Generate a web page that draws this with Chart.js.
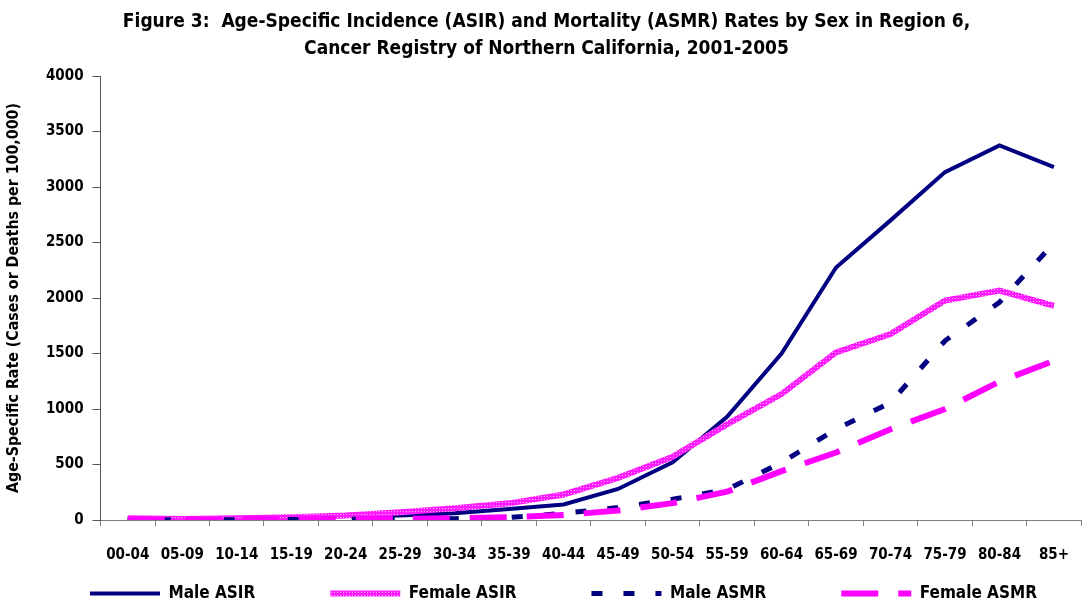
<!DOCTYPE html>
<html>
<head>
<meta charset="utf-8">
<script src="https://cdn.jsdelivr.net/npm/chart.js@4.4.0/dist/chart.umd.min.js"></script>
<style>
  html, body { margin: 0; padding: 0; background: #fff; overflow: hidden; }
  #wrap { position: relative; width: 1089px; height: 603px; }
</style>
</head>
<body>
<div id="wrap"><canvas id="c"></canvas></div>
<script>
const categories = ['00-04','05-09','10-14','15-19','20-24','25-29','30-34','35-39','40-44','45-49','50-54','55-59','60-64','65-69','70-74','75-79','80-84','85+'];
const maleASIR   = [15, 10, 15, 25, 35, 40, 60, 100, 140, 280, 519, 930, 1500, 2275, 2700, 3135, 3375, 3180];
const femaleASIR = [15, 10, 15, 25, 40, 70, 105, 150, 230, 380, 570, 862, 1135, 1510, 1675, 1978, 2068, 1930];
const maleASMR   = [3, 3, 3, 5, 6, 8, 12, 22, 60, 112, 187, 275, 518, 818, 1058, 1615, 1962, 2495];
const femaleASMR = [3, 2, 3, 4, 6, 10, 16, 25, 45, 85, 152, 255, 440, 608, 818, 1000, 1248, 1435];
const titleLines = ['Figure 3:  Age-Specific Incidence (ASIR) and Mortality (ASMR) Rates by Sex in Region 6,', 'Cancer Registry of Northern California, 2001-2005'];
const yAxisTitle = 'Age-Specific Rate (Cases or Deaths per 100,000)';

const NARROW = "'DejaVu Sans Condensed', 'Liberation Sans', Arial, sans-serif";

// dotted-magenta pattern for Female ASIR
const pc = document.createElement('canvas');
pc.width = 3; pc.height = 3;
const pg = pc.getContext('2d');
pg.fillStyle = '#ff1aff'; pg.fillRect(0, 0, 3, 3);
pg.fillStyle = '#ffb3ff'; pg.fillRect(1, 1, 1, 1);
const femalePattern = pg.createPattern(pc, 'repeat');

const LEGEND_GAP = 75;      // horizontal gap between legend entries
const LEGEND_START = 90;    // x of first legend entry
const LEGEND_ROW_Y = 585;   // y of the legend row top

const legendTweak = {
  id: 'legendTweak',
  afterInit(chart) {
    const lg = chart.legend;
    const origFit = lg.fit.bind(lg);
    lg.fit = function () {
      const lo = this.options.labels;
      const p = lo.padding;
      lo.padding = 8;
      origFit();
      lo.padding = p;
      this.height = 19;
    };
  },
  afterLayout(chart) {
    const l = chart.legend;
    if (!l || !l.lineWidths) return;
    const p = LEGEND_GAP;
    const R = 1140;
    l.right = R;
    l.left = 2 * LEGEND_START - p - R + l.lineWidths[0];
    l.top = LEGEND_ROW_Y - p;
    l.bottom = 603;
  }
};

new Chart(document.getElementById('c'), {
  type: 'line',
  data: {
    labels: categories,
    datasets: [
      { label: 'Male ASIR', data: maleASIR, borderColor: '#000080', backgroundColor: '#000080', borderWidth: 4, pointRadius: 0, tension: 0, order: 4 },
      { label: 'Female ASIR', data: femaleASIR, borderColor: femalePattern, backgroundColor: femalePattern, borderWidth: 6, pointRadius: 0, tension: 0, order: 3 },
      { label: 'Male ASMR', data: maleASMR, borderColor: '#000080', backgroundColor: '#000080', borderWidth: 5, borderDash: [11, 21], pointRadius: 0, tension: 0, order: 2 },
      { label: 'Female ASMR', data: femaleASMR, borderColor: '#ff00ff', backgroundColor: '#ff00ff', borderWidth: 6, borderDash: [37, 20], pointRadius: 0, tension: 0, order: 1 }
    ]
  },
  options: {
    responsive: true,
    maintainAspectRatio: false,
    animation: false,
    layout: { padding: { left: 4, right: 0, top: 0, bottom: 0 } },
    plugins: {
      title: {
        display: true,
        text: titleLines,
        color: '#000',
        font: { family: NARROW, size: 19, weight: 'bold', lineHeight: 1.45 },
        padding: { top: 8, bottom: 13 }
      },
      legend: {
        position: 'bottom',
        labels: {
          usePointStyle: true,
          pointStyle: 'line',
          pointStyleWidth: 70,
          boxHeight: 16,
          padding: LEGEND_GAP,
          color: '#000',
          font: { family: NARROW, size: 17, weight: 'bold' },
          sort: (a, b) => a.datasetIndex - b.datasetIndex,
          generateLabels(chart) {
            const items = Chart.defaults.plugins.legend.labels.generateLabels(chart);
            items.forEach(it => {
              const ds = chart.data.datasets[it.datasetIndex];
              it.strokeStyle = ds.borderColor;
              it.lineWidth = ds.borderWidth;
              it.lineDash = ds.borderDash || [];
              it.pointStyle = 'line';
            });
            return items;
          }
        }
      },
      tooltip: { enabled: false }
    },
    scales: {
      x: {
        offset: true,
        grid: { offset: true, drawOnChartArea: false, drawTicks: true, tickLength: 6, color: '#808080' },
        border: { color: '#808080', width: 1 },
        ticks: { color: '#000', padding: 20, maxRotation: 0, autoSkip: false, font: { family: NARROW, size: 15, weight: 'bold' } }
      },
      y: {
        min: 0, max: 4000,
        grid: { drawOnChartArea: false, drawTicks: true, tickLength: 8, color: '#555' },
        border: { color: '#555', width: 1 },
        ticks: { stepSize: 500, color: '#000', padding: 9, callback: v => String(v), font: { family: NARROW, size: 15, weight: 'bold' } },
        title: { display: true, text: yAxisTitle, color: '#000', padding: { top: 0, bottom: 14 }, font: { family: NARROW, size: 15.8, weight: 'bold' } }
      }
    }
  },
  plugins: [legendTweak]
});
</script>
</body>
</html>
